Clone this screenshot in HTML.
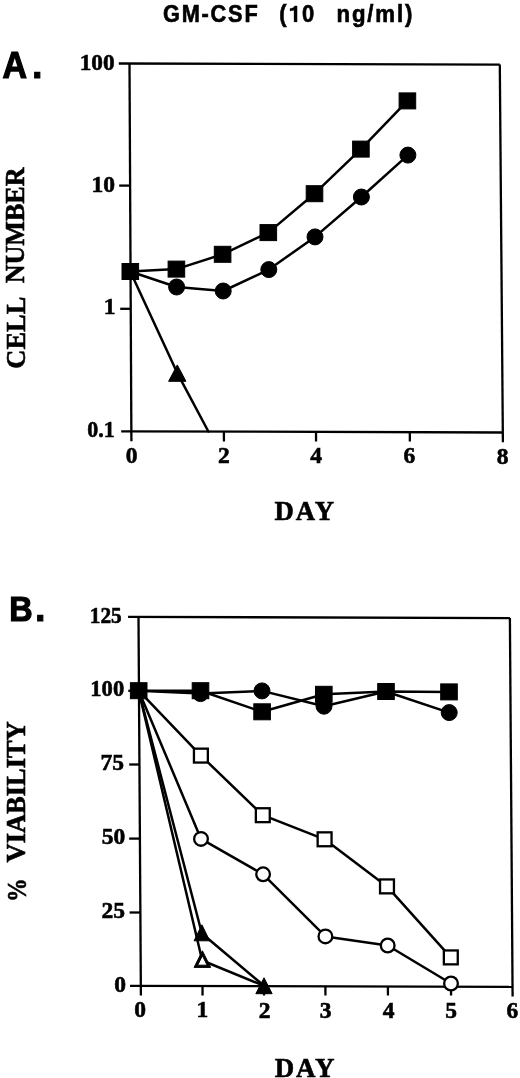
<!DOCTYPE html>
<html><head><meta charset="utf-8"><style>
html,body{margin:0;padding:0;background:#fff;width:520px;height:1078px;overflow:hidden}
svg{display:block;will-change:transform;filter:blur(0.35px)}
line,polyline,polygon,rect,circle{stroke:#000}
.ti{font-family:"Liberation Sans",sans-serif;font-weight:bold;font-size:22px;letter-spacing:1.8px}
.pl{font-family:"Liberation Sans",sans-serif;font-weight:bold;font-size:36px;stroke-width:1.2px}
.tk{font-family:"Liberation Serif",serif;font-weight:bold;font-size:23.5px}
.ax{font-family:"Liberation Serif",serif;font-weight:bold;font-size:27.5px}
text{fill:#000;stroke:#000;stroke-width:0.6px}
</style></head><body>
<svg width="520" height="1078" viewBox="0 0 520 1078">
<line x1="118.8" y1="63.5" x2="499.8" y2="64.6" stroke-width="2.3"/>
<line x1="129.5" y1="63.5" x2="131.4" y2="441.3" stroke-width="2.3"/>
<line x1="499.8" y1="64.6" x2="502.9" y2="442.3" stroke-width="2.3"/>
<line x1="121.2" y1="431.3" x2="502.8" y2="432.5" stroke-width="2.3"/>
<line x1="119.2" y1="185.6" x2="130.2" y2="185.6" stroke-width="2.3"/>
<line x1="120.2" y1="308.8" x2="130.8" y2="308.8" stroke-width="2.3"/>
<line x1="223.9" y1="432" x2="223.95000000000002" y2="441.5" stroke-width="2.3"/>
<line x1="316.0" y1="432" x2="316.05" y2="441.5" stroke-width="2.3"/>
<line x1="409.8" y1="432" x2="409.85" y2="441.5" stroke-width="2.3"/>
<polyline points="130.3,271.5 176.4,269.1 222.6,254.3 268.3,232.6 314.5,193.7 360.9,149.1 407.4,100.9" fill="none" stroke-width="2.5" stroke-linejoin="round" stroke-linecap="round"/>
<polyline points="130.3,271.5 176.6,287 223.2,291 268.8,269.6 315,236.9 361.4,197 407.9,155.1" fill="none" stroke-width="2.5" stroke-linejoin="round" stroke-linecap="round"/>
<polyline points="130.3,271.5 177.3,373.1 208.4,431.5" fill="none" stroke-width="2.5" stroke-linejoin="round" stroke-linecap="round"/>
<circle cx="176.6" cy="287" r="8.0" fill="#000" stroke="none"/>
<circle cx="223.2" cy="291" r="8.0" fill="#000" stroke="none"/>
<circle cx="268.8" cy="269.6" r="8.0" fill="#000" stroke="none"/>
<circle cx="315" cy="236.9" r="8.0" fill="#000" stroke="none"/>
<circle cx="361.4" cy="197" r="8.0" fill="#000" stroke="none"/>
<circle cx="407.9" cy="155.1" r="8.0" fill="#000" stroke="none"/>
<rect x="122.00" y="263.50" width="16.6" height="16.0" fill="#000" stroke="none"/>
<rect x="168.10" y="261.10" width="16.6" height="16.0" fill="#000" stroke="none"/>
<rect x="214.30" y="246.30" width="16.6" height="16.0" fill="#000" stroke="none"/>
<rect x="260.00" y="224.60" width="16.6" height="16.0" fill="#000" stroke="none"/>
<rect x="306.20" y="185.70" width="16.6" height="16.0" fill="#000" stroke="none"/>
<rect x="352.60" y="141.10" width="16.6" height="16.0" fill="#000" stroke="none"/>
<rect x="399.10" y="92.90" width="16.6" height="16.0" fill="#000" stroke="none"/>
<polygon points="177.3,364.9 185.95000000000002,381.3 168.65,381.3" fill="#000" stroke="none"/>
<line x1="128.1" y1="616.8" x2="509.9" y2="618.1" stroke-width="2.3"/>
<line x1="138.5" y1="616.8" x2="140.9" y2="995.4" stroke-width="2.3"/>
<line x1="509.9" y1="618.1" x2="512.6" y2="996.5" stroke-width="2.3"/>
<line x1="130.0" y1="985.8" x2="512.5" y2="986.9" stroke-width="2.3"/>
<line x1="128.3" y1="690.8" x2="138.9612466124661" y2="690.8" stroke-width="2.3"/>
<line x1="129.2" y1="764.5" x2="139.42062330623307" y2="764.5" stroke-width="2.3"/>
<line x1="129.2" y1="838.6" x2="139.88249322493226" y2="838.6" stroke-width="2.3"/>
<line x1="129.6" y1="912.5" x2="140.34311653116532" y2="912.5" stroke-width="2.3"/>
<line x1="202.5" y1="986.2" x2="202.55" y2="995.6" stroke-width="2.3"/>
<line x1="264.0" y1="986.2" x2="264.05" y2="995.6" stroke-width="2.3"/>
<line x1="325.4" y1="986.2" x2="325.45" y2="995.6" stroke-width="2.3"/>
<line x1="387.9" y1="986.2" x2="387.95" y2="995.6" stroke-width="2.3"/>
<line x1="451.0" y1="986.2" x2="451.05" y2="995.6" stroke-width="2.3"/>
<polyline points="138.7,690.7 201.9,933.5 264,985.8" fill="none" stroke-width="2.5" stroke-linejoin="round" stroke-linecap="round"/>
<polyline points="138.7,690.7 202.2,960.5 264,985.8" fill="none" stroke-width="2.5" stroke-linejoin="round" stroke-linecap="round"/>
<polyline points="138.7,690.7 201,838.9 263.1,874.3 325.4,936.4 387.7,945.5 451,983.5" fill="none" stroke-width="2.5" stroke-linejoin="round" stroke-linecap="round"/>
<polyline points="138.7,690.7 200.9,755.6 262.8,815.2 324.6,839.3 387,886.4 450.8,957.4" fill="none" stroke-width="2.5" stroke-linejoin="round" stroke-linecap="round"/>
<polyline points="138.7,690.7 200.5,693.6 262,690.9 324,706.2 386,691.5 449.2,712.6" fill="none" stroke-width="2.5" stroke-linejoin="round" stroke-linecap="round"/>
<polyline points="138.7,690.7 200.5,690.7 262.1,711.8 323.8,694.3 386,691.5 449,691.9" fill="none" stroke-width="2.5" stroke-linejoin="round" stroke-linecap="round"/>
<polygon points="201.9,924.8 209.70000000000002,940.8 194.1,940.8" fill="#000" stroke="none"/>
<polygon points="202.4,950.8 210.7,967.4 194.1,967.4" fill="#000" stroke="none"/>
<polygon points="202.40,955.72 207.14,965.20 197.66,965.20" fill="#fff" stroke="none"/>
<polygon points="264.0,977.8 272.15,993.7 255.85,993.7" fill="#000" stroke="none"/>
<rect x="193.95" y="748.65" width="13.899999999999999" height="13.899999999999999" fill="#fff" stroke-width="2.3"/>
<rect x="255.85" y="808.25" width="13.899999999999999" height="13.899999999999999" fill="#fff" stroke-width="2.3"/>
<rect x="317.65" y="832.35" width="13.899999999999999" height="13.899999999999999" fill="#fff" stroke-width="2.3"/>
<rect x="380.05" y="879.45" width="13.899999999999999" height="13.899999999999999" fill="#fff" stroke-width="2.3"/>
<rect x="443.85" y="950.45" width="13.899999999999999" height="13.899999999999999" fill="#fff" stroke-width="2.3"/>
<circle cx="201" cy="838.9" r="6.85" fill="#fff" stroke-width="2.3"/>
<circle cx="263.1" cy="874.3" r="6.85" fill="#fff" stroke-width="2.3"/>
<circle cx="325.4" cy="936.4" r="6.85" fill="#fff" stroke-width="2.3"/>
<circle cx="387.7" cy="945.5" r="6.85" fill="#fff" stroke-width="2.3"/>
<circle cx="451" cy="983.5" r="6.85" fill="#fff" stroke-width="2.3"/>
<circle cx="200.5" cy="693.6" r="8.0" fill="#000" stroke="none"/>
<circle cx="262" cy="690.9" r="8.0" fill="#000" stroke="none"/>
<circle cx="324" cy="706.2" r="8.0" fill="#000" stroke="none"/>
<circle cx="386" cy="691.5" r="8.0" fill="#000" stroke="none"/>
<circle cx="449.2" cy="712.6" r="8.0" fill="#000" stroke="none"/>
<rect x="130.40" y="682.70" width="16.6" height="16.0" fill="#000" stroke="none"/>
<rect x="192.20" y="682.70" width="16.6" height="16.0" fill="#000" stroke="none"/>
<rect x="253.80" y="703.80" width="16.6" height="16.0" fill="#000" stroke="none"/>
<rect x="315.50" y="686.30" width="16.6" height="16.0" fill="#000" stroke="none"/>
<rect x="377.70" y="683.50" width="16.6" height="16.0" fill="#000" stroke="none"/>
<rect x="440.70" y="683.90" width="16.6" height="16.0" fill="#000" stroke="none"/>
<path d="M294.0,21.9 L297.1,21.9 L297.1,5.9 L294.6,5.9 C294.1,7.3 292.4,8.3 290.0,8.6 L290.0,10.9 L294.0,10.3 Z" fill="#000" stroke="#000" stroke-width="0.3"/>
<text class="ti" transform="matrix(0.9896 0 0 1.0800 1.20 -1.06)" x="163.5" y="21.5" text-anchor="start">GM-CSF</text>
<text class="ti" transform="matrix(1.0000 0 0 1.0800 -0.50 -1.46)" x="279.7" y="21.5" text-anchor="start">(</text>
<text class="ti" transform="matrix(1.0000 0 0 1.0800 0.05 -1.06)" x="302.0" y="21.5" text-anchor="start">0</text>
<text class="ti" transform="matrix(1.0101 0 0 1.0800 -5.15 -1.46)" x="338.3" y="21.5" text-anchor="start">ng/ml)</text>
<text class="pl" transform="matrix(0.9436 0 0 1.0185 -0.14 -1.31)" x="2.9" y="77.7" text-anchor="start">A</text>
<text class="pl" transform="matrix(1.0000 0 0 1.0000 -2.50 0.10)" x="34.8" y="77.7" text-anchor="start">.</text>
<text class="pl" transform="matrix(0.9001 0 0 0.9982 -0.38 1.01)" x="10.8" y="621.3" text-anchor="start">B</text>
<text class="pl" transform="matrix(1.0000 0 0 1.0000 -2.50 -0.10)" x="37.7" y="621.3" text-anchor="start">.</text>
<text class="tk" transform="matrix(0.9909 0 0 1.0000 1.23 0.50)" x="114.4" y="69.5" text-anchor="end">100</text>
<text class="tk" transform="matrix(1.0000 0 0 1.0000 1.45 0.10)" x="113.6" y="191.7" text-anchor="end">10</text>
<text class="tk" transform="matrix(1.0000 0 0 1.0000 1.50 -0.50)" x="114.0" y="314.5" text-anchor="end">1</text>
<text class="tk" transform="matrix(0.9361 0 0 1.0000 7.83 0.30)" x="114.2" y="437.1" text-anchor="end">0.1</text>
<text class="tk" transform="matrix(1.0000 0 0 1.0000 0.20 -0.30)" x="131.4" y="462.9" text-anchor="middle">0</text>
<text class="tk" transform="matrix(1.0000 0 0 1.0000 -0.15 0.30)" x="224.0" y="463.1" text-anchor="middle">2</text>
<text class="tk" transform="matrix(1.0000 0 0 1.0000 0.15 0.10)" x="316.0" y="462.7" text-anchor="middle">4</text>
<text class="tk" transform="matrix(1.0000 0 0 1.0000 -0.40 -0.10)" x="409.7" y="463.3" text-anchor="middle">6</text>
<text class="tk" transform="matrix(1.0000 0 0 1.0000 0.00 0.30)" x="502.5" y="464.1" text-anchor="middle">8</text>
<text class="tk" transform="matrix(0.9064 0 0 1.0000 11.42 -0.30)" x="121.7" y="622.9" text-anchor="end">125</text>
<text class="tk" transform="matrix(0.9606 0 0 1.0000 5.74 -0.40)" x="123.3" y="696.2" text-anchor="end">100</text>
<text class="tk" transform="matrix(1.0000 0 0 1.0000 1.60 -0.40)" x="122.3" y="770.2" text-anchor="end">75</text>
<text class="tk" transform="matrix(1.0000 0 0 1.0000 0.75 0.40)" x="124.4" y="843.8" text-anchor="end">50</text>
<text class="tk" transform="matrix(1.0000 0 0 1.0000 1.05 -0.10)" x="124.0" y="918.3" text-anchor="end">25</text>
<text class="tk" transform="matrix(1.0000 0 0 1.0000 0.90 0.10)" x="125.0" y="991.7" text-anchor="end">0</text>
<text class="tk" transform="matrix(1.0000 0 0 1.0000 -0.10 0.30)" x="140.3" y="1017.1" text-anchor="middle">0</text>
<text class="tk" transform="matrix(1.0000 0 0 1.0000 -0.20 -0.50)" x="202.6" y="1017.5" text-anchor="middle">1</text>
<text class="tk" transform="matrix(1.0000 0 0 1.0000 0.20 0.10)" x="264.4" y="1017.7" text-anchor="middle">2</text>
<text class="tk" transform="matrix(1.0000 0 0 1.0000 0.00 0.10)" x="325.5" y="1017.7" text-anchor="middle">3</text>
<text class="tk" transform="matrix(1.0000 0 0 1.0000 0.40 0.10)" x="388.3" y="1017.7" text-anchor="middle">4</text>
<text class="tk" transform="matrix(1.0000 0 0 1.0000 -0.05 0.10)" x="451.1" y="1017.7" text-anchor="middle">5</text>
<text class="tk" transform="matrix(1.0000 0 0 1.0000 0.10 0.10)" x="512.2" y="1017.7" text-anchor="middle">6</text>
<text class="ax" transform="matrix(0.9736 0 0 1.0000 9.29 -0.10)" x="304" y="520.3" text-anchor="middle" letter-spacing="2">DAY</text>
<text class="ax" transform="matrix(0.9801 0 0 1.0000 7.62 0.50)" x="304" y="1076.5" text-anchor="middle" letter-spacing="2">DAY</text>
<text class="ax" transform="matrix(1.0000 0 0 0.9617 -0.15 12.47) translate(25.2,333.0) rotate(-90)" text-anchor="middle">CELL</text>
<text class="ax" transform="matrix(1.0000 0 0 0.9496 -0.75 11.71) translate(25.2,225.0) rotate(-90)" text-anchor="middle">NUMBER</text>
<text class="ax" transform="matrix(1.0000 0 0 0.8665 0.25 118.83) translate(25.5,890.0) rotate(-90)" text-anchor="middle">%</text>
<text class="ax" transform="matrix(1.0000 0 0 0.9624 -0.60 29.66) translate(25.2,792.0) rotate(-90)" text-anchor="middle">VIABILITY</text>
</svg>
</body></html>
